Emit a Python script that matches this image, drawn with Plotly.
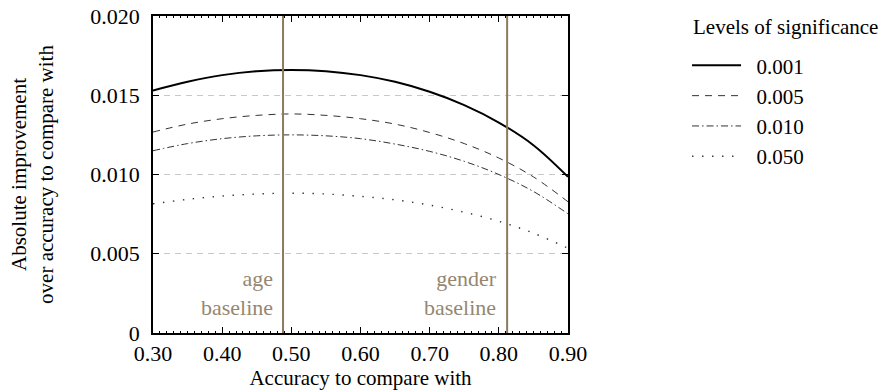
import plotly.graph_objects as go

# ---- data ----
accuracy = [0.30, 0.35, 0.40, 0.45, 0.50, 0.55, 0.60, 0.65, 0.70, 0.75, 0.80, 0.85, 0.90]
sig_001 = [0.01530, 0.01585, 0.01627, 0.01652, 0.01660, 0.01652, 0.01627, 0.01585, 0.01522, 0.01438, 0.01328, 0.01185, 0.00985]
sig_005 = [0.01268, 0.01318, 0.01352, 0.01373, 0.01382, 0.01373, 0.01352, 0.01318, 0.01265, 0.01195, 0.01104, 0.00985, 0.00828]
sig_010 = [0.01150, 0.01195, 0.01226, 0.01244, 0.01250, 0.01244, 0.01226, 0.01192, 0.01146, 0.01083, 0.01000, 0.00893, 0.00752]
sig_050 = [0.00815, 0.00843, 0.00864, 0.00877, 0.00882, 0.00877, 0.00862, 0.00840, 0.00807, 0.00762, 0.00705, 0.00630, 0.00535]
series_names = ["0.001", "0.005", "0.010", "0.050"]
legend_title = "Levels of significance"

baseline_names = ["age<br>baseline", "gender<br>baseline"]
baseline_values = [0.488, 0.812]

x_tickvals = [0.30, 0.40, 0.50, 0.60, 0.70, 0.80, 0.90]
x_ticktext = ["0.30", "0.40", "0.50", "0.60", "0.70", "0.80", "0.90"]
y_tickvals = [0, 0.005, 0.010, 0.015, 0.020]
y_ticktext = ["0", "0.005", "0.010", "0.015", "0.020"]

FONT = "Liberation Serif, Times New Roman, serif"
LINE_C = "#8a7a5e"
TEXT_C = "#958770"

styles = [
    dict(color="black", width=2, dash="solid"),
    dict(color="#333333", width=1, dash="7px,6px"),
    dict(color="#333333", width=1, dash="7px,3px,1.5px,3px"),
    dict(color="#333333", width=1.4, dash="1.4px,8.6px"),
]

fig = go.Figure()

for i, (nm, ys) in enumerate(zip(series_names, [sig_001, sig_005, sig_010, sig_050])):
    fig.add_trace(go.Scatter(
        x=accuracy, y=ys, mode="lines", name="\u00a0\u00a0" + nm,
        line=dict(shape="spline", smoothing=1.0, **styles[i]),
    ))

for nm, xv in zip(baseline_names, baseline_values):
    fig.add_shape(type="line", x0=xv, x1=xv, y0=0, y1=1, xref="x", yref="y domain",
                  line=dict(color=LINE_C, width=2), layer="above")
    fig.add_annotation(x=xv, y=0.0007, xref="x", yref="y", text=nm, showarrow=False,
                       xanchor="right", yanchor="bottom", align="right", xshift=-8,
                       font=dict(family=FONT, size=22, color=TEXT_C))

fig.add_annotation(x=1.296, y=0.965, xref="paper", yref="paper", text=legend_title,
                   showarrow=False, xanchor="left", yanchor="middle",
                   font=dict(family=FONT, size=21, color="black"))

axis_common = dict(
    showline=True, linecolor="black", linewidth=1.5, mirror="allticks",
    ticks="inside", ticklen=6, tickwidth=1, tickcolor="black",
    zeroline=False,
    tickfont=dict(family=FONT, size=22, color="black"),
)

fig.update_xaxes(
    range=[0.30, 0.9000001], tickvals=x_tickvals, ticktext=x_ticktext,
    showgrid=False, ticklabelstandoff=0,
    minor=dict(ticks="inside", ticklen=2.5, dtick=0.01, tick0=0.30, tickcolor="black", showgrid=False),
    title=dict(text="Accuracy to compare with", font=dict(family=FONT, size=21, color="black"), standoff=0),
    **axis_common,
)
fig.update_yaxes(
    range=[0, 0.02000001], tickvals=y_tickvals, ticktext=y_ticktext,
    showgrid=True, gridcolor="#c8c8c8", gridwidth=1, griddash="6px,5px",
    ticklabelstandoff=7,
    title=dict(text="Absolute improvement<br>over accuracy to compare with",
               font=dict(family=FONT, size=21, color="black"), standoff=31),
    **axis_common,
)

fig.update_layout(
    width=888, height=392,
    margin=dict(l=153, r=320, t=16, b=59, autoexpand=False),
    plot_bgcolor="white", paper_bgcolor="white",
    font=dict(family=FONT, size=21, color="black"),
    showlegend=True,
    legend=dict(
        xref="container", yref="container", x=0.7737, y=0.8847, xanchor="left", yanchor="top",
        font=dict(family=FONT, size=21, color="black"),
        bgcolor="rgba(0,0,0,0)", itemwidth=49,
    ),
)

fig.write_html("out.html", config={"displayModeBar": False},
               post_script="document.body.style.margin='0';")
